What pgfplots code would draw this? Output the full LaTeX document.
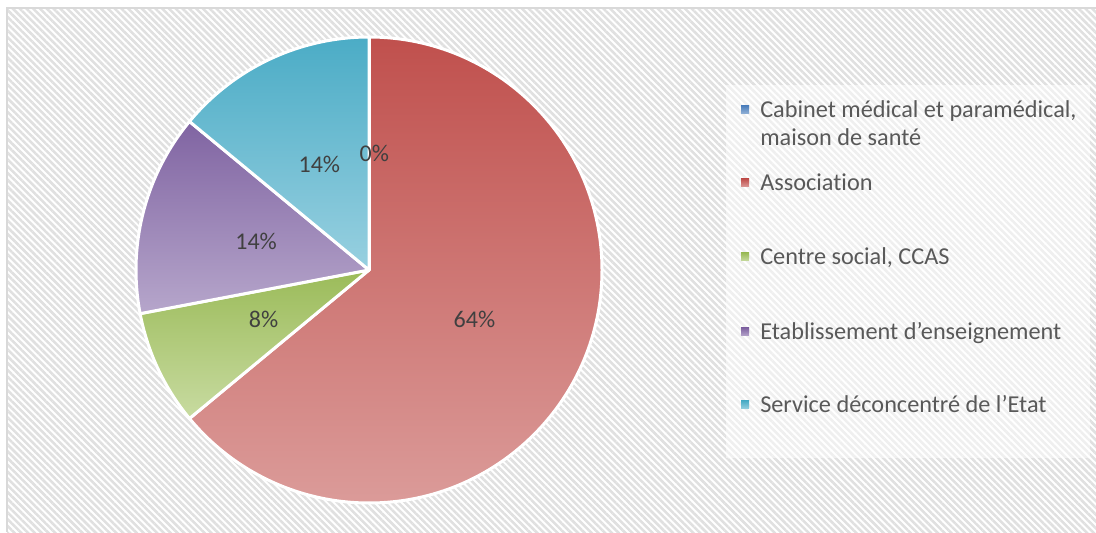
\documentclass[border=0pt]{standalone}
\usepackage{pgfplots}
\pgfplotsset{compat=1.18}
\usepackage{pgfplotstable}
\usepackage{fontspec}
\setmainfont[Ligatures=NoCommon]{Carlito}
\usetikzlibrary{patterns.meta}

\definecolor{txt}{HTML}{595959}
\definecolor{lbl}{HTML}{404040}
\definecolor{frame}{HTML}{D9D9D9}
\definecolor{hatch}{HTML}{E0E0E0}
\definecolor{cabT}{HTML}{4F81BD}\definecolor{cabB}{HTML}{95B3D7}
\definecolor{assT}{HTML}{C0504D}\definecolor{assB}{HTML}{DB9B99}
\definecolor{cenT}{HTML}{9BBB59}\definecolor{cenB}{HTML}{C8DBA1}
\definecolor{etaT}{HTML}{8064A2}\definecolor{etaB}{HTML}{B6A6CB}
\definecolor{serT}{HTML}{4BACC6}\definecolor{serB}{HTML}{98D0E0}

\pgfplotstableread{
id value
Cabinet 0
Association 64
Centre 8
Etablissement 14
Service 14
}\piedata

\pgfplotstablegetelem{0}{value}\of\piedata\edef\vA{\pgfplotsretval}
\pgfplotstablegetelem{1}{value}\of\piedata\edef\vB{\pgfplotsretval}
\pgfplotstablegetelem{2}{value}\of\piedata\edef\vC{\pgfplotsretval}
\pgfplotstablegetelem{3}{value}\of\piedata\edef\vD{\pgfplotsretval}
\pgfplotstablegetelem{4}{value}\of\piedata\edef\vE{\pgfplotsretval}

\pgfmathsetmacro\aO{90}
\pgfmathsetmacro\aA{\aO-3.6*\vA}
\pgfmathsetmacro\aB{\aA-3.6*\vB}
\pgfmathsetmacro\aC{\aB-3.6*\vC}
\pgfmathsetmacro\aD{\aC-3.6*\vD}
\pgfmathsetmacro\aE{\aD-3.6*\vE}
\pgfmathsetmacro\mA{(\aO+\aA)/2}
\pgfmathsetmacro\mB{(\aA+\aB)/2}
\pgfmathsetmacro\mC{(\aB+\aC)/2}
\pgfmathsetmacro\mD{(\aC+\aD)/2}
\pgfmathsetmacro\mE{(\aD+\aE)/2}

\def\R{174.75pt}
\def\Rl{87.4pt}
\newcommand\slice[4]{%
  \path[top color=#3, bottom color=#4, draw=white, line width=2.25pt, line join=round]
    (axis cs:369,262) -- ++(#1:\R) arc[start angle=#1, end angle=#2, radius=\R] -- cycle;}
\newcommand\plabel[3]{%
  \path (axis cs:369,262) ++(#1:\Rl) node[text=lbl, font=\fontsize{18}{21}\selectfont, inner sep=0pt, xshift=#3] {#2\%};}
\newcommand\lentry[5]{% y marker, y baseline, top, bottom, text
  \path[top color=#3, bottom color=#4] (axis cs:741,#1-4) rectangle (axis cs:749,#1+4);
  \node[anchor=base west, inner sep=0pt, text=txt, font=\fontsize{18.2}{21}\selectfont] at (axis cs:760,#2) {#5};}

\begin{document}
\begin{tikzpicture}
\begin{axis}[
  scale only axis, width=822pt, height=399pt,
  xmin=0, xmax=1096, ymin=0, ymax=532,
  hide axis, clip=true,
]
% background
\fill[white] (axis cs:0,0) rectangle (axis cs:1096,532);
\fill[pattern={Lines[angle=-45, distance=3.6pt, line width=1.9pt]}, pattern color=hatch]
  (axis cs:7,0) rectangle (axis cs:1096,524);
\draw[frame, line width=1.5pt] (axis cs:7,0) -- (axis cs:7,524) -- (axis cs:1096,524);
% legend box
\fill[white, opacity=0.5] (axis cs:726,74) rectangle (axis cs:1090,447);
% pie
\slice{\aA}{\aB}{assT}{assB}
\slice{\aB}{\aC}{cenT}{cenB}
\slice{\aC}{\aD}{etaT}{etaB}
\slice{\aD}{\aE}{serT}{serB}
\slice{\aO}{\aA}{cabT}{cabB}
% labels
\plabel{\mA}{\vA}{4pt}
\plabel{\mB}{\vB}{0pt}
\plabel{\mC}{\vC}{0pt}
\plabel{\mD}{\vD}{0pt}
\plabel{\mE}{\vE}{0pt}
% legend
\lentry{422}{414.5}{cabT}{cabB}{Cabinet médical et paramédical,}
\node[anchor=base west, inner sep=0pt, text=txt, font=\fontsize{18.2}{21}\selectfont] at (axis cs:760,386) {maison de santé};
\lentry{349}{341.5}{assT}{assB}{Association}
\lentry{275}{267}{cenT}{cenB}{Centre social, CCAS}
\lentry{200}{192.5}{etaT}{etaB}{Etablissement d’enseignement}
\lentry{127}{119.5}{serT}{serB}{Service déconcentré de l’Etat}
\end{axis}
\pgfresetboundingbox
\useasboundingbox (current axis.south west) rectangle (current axis.north east);
\end{tikzpicture}
\end{document}
